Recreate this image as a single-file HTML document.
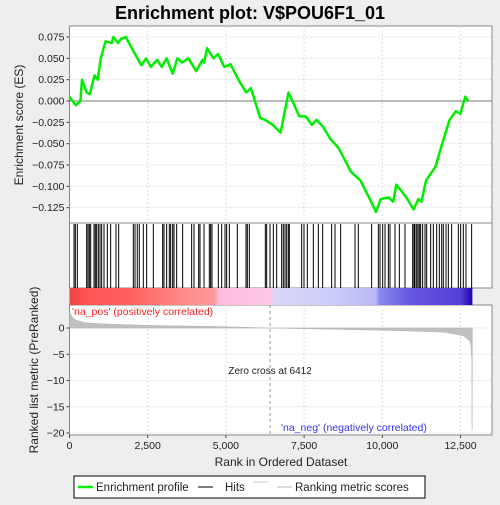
<!DOCTYPE html>
<html><head><meta charset="utf-8"><style>
body{margin:0;background:#eeeeee;width:500px;height:500px;overflow:hidden;font-family:"Liberation Sans",sans-serif}
</style></head><body>
<svg id="c" width="500" height="500" xmlns="http://www.w3.org/2000/svg" font-family="Liberation Sans, sans-serif"></svg>
<script>
const esRanks=[0,200,350,400,550,650,800,900,1000,1150,1350,1400,1550,1650,1800,2050,2300,2450,2600,2800,2950,3100,3300,3450,3600,3800,4050,4250,4300,4400,4600,4750,4950,5150,5400,5650,5800,6100,6250,6500,6750,7000,7350,7550,7750,7900,8100,8350,8600,9000,9300,9600,9800,9950,10200,10350,10450,10750,11000,11150,11250,11400,11700,11900,12150,12350,12500,12650,12750];
const esValues=[0.005,-0.005,0.0,0.025,0.01,0.008,0.03,0.025,0.05,0.07,0.068,0.075,0.068,0.073,0.075,0.058,0.042,0.05,0.04,0.048,0.04,0.05,0.032,0.05,0.045,0.05,0.035,0.048,0.045,0.062,0.05,0.055,0.04,0.043,0.025,0.01,0.015,-0.02,-0.022,-0.028,-0.037,0.01,-0.018,-0.018,-0.028,-0.022,-0.03,-0.045,-0.055,-0.083,-0.093,-0.115,-0.13,-0.115,-0.113,-0.118,-0.098,-0.112,-0.127,-0.115,-0.118,-0.093,-0.077,-0.052,-0.022,-0.012,-0.015,0.005,0.0];
const hitRanks=[144,186,250,549,591,634,677,783,826,868,922,975,1028,1103,1209,1316,1486,1572,2040,2094,2168,2232,2360,2467,2680,2978,3021,3106,3191,3234,3298,3341,3426,3618,3905,3980,4129,4172,4300,4470,4513,4556,4758,4865,4972,5024,5110,5365,5642,5685,5749,6260,6303,6410,6516,6623,6783,6836,6890,6943,6996,7028,7422,7497,7603,7795,7955,8093,8381,8488,8669,9127,9234,9660,9873,9927,10012,10087,10193,10246,10406,10545,10726,10971,11013,11045,11099,11141,11184,11226,11290,11365,11418,11546,11631,11738,11823,11898,11951,12036,12111,12217,12430,12505,12590,12675,12856];
const metricRanks=[0,100,200,500,1000,2500,4500,6412,9000,10500,12000,12600,12800,12840,12860,12870];
const metricValues=[3,2,1.5,1,0.8,0.5,0.3,0,-0.3,-0.5,-0.8,-1.5,-2.5,-3.5,-6,-19.5];
const esTicks=[0.075,0.05,0.025,0,-0.025,-0.05,-0.075,-0.1,-0.125];
const esTickLabels=["0.075","0.050","0.025","0.000","\u22120.025","\u22120.050","\u22120.075","\u22120.100","\u22120.125"];
const metricTicks=[0,-5,-10,-15,-20];
const xTicks=[0,2500,5000,7500,10000,12500];
const xTickLabels=["0","2,500","5,000","7,500","10,000","12,500"];
const zeroCross=6412, maxRank=12880;

const L=69.5,R=492;
const X=r=>L+r*0.03128;
const YE=v=>101-v*853.3;
const YM=v=>328-v*5.25;
const svg=document.getElementById('c');
const NS='http://www.w3.org/2000/svg';
function mk(t,a,p){const e=document.createElementNS(NS,t);for(const k in a)e.setAttribute(k,a[k]);(p||svg).appendChild(e);return e;}
function tx(x,y,s,a,p){const e=mk('text',Object.assign({x:x,y:y},a||{}),p);e.textContent=s;return e;}

const title=tx(250,19,"Enrichment plot: V$POU6F1_01",{'text-anchor':'middle','font-size':'18','font-weight':'bold',fill:'#000'});


const p1=mk('rect',{x:L,y:26,width:R-L,height:197,fill:'#fff',stroke:'#888'});

const p2=mk('rect',{x:L,y:223,width:R-L,height:65,fill:'#fff',stroke:'#888'});

const p3=mk('rect',{x:L,y:305,width:R-L,height:130,fill:'#fff',stroke:'#888'});


xTicks.forEach(t=>{if(t>0){mk('line',{x1:X(t),x2:X(t),y1:26,y2:223,stroke:'#ddd','stroke-dasharray':'2,2'});mk('line',{x1:X(t),x2:X(t),y1:305,y2:435,stroke:'#ddd','stroke-dasharray':'2,2'});}});
esTicks.forEach((t,i)=>{mk('line',{x1:L,x2:R,y1:YE(t),y2:YE(t),stroke:'#ddd','stroke-dasharray':'2,2'});
 mk('line',{x1:L-3,x2:L,y1:YE(t),y2:YE(t),stroke:'#444'});
 const e=tx(L-5,YE(t)+3.5,esTickLabels[i],{'text-anchor':'end','font-size':'10.5',fill:'#222'});
 });
mk('line',{x1:L,x2:R,y1:YE(0),y2:YE(0),stroke:'#777'});
metricTicks.forEach(t=>{mk('line',{x1:L,x2:R,y1:YM(t),y2:YM(t),stroke:'#ddd','stroke-dasharray':'2,2'});
 mk('line',{x1:L-3,x2:L,y1:YM(t),y2:YM(t),stroke:'#444'});
 const e=tx(L-5,YM(t)+3.5,t===0?"0":"\u2212"+(-t),{'text-anchor':'end','font-size':'10.5',fill:'#222'});
 });
xTicks.forEach((t,i)=>{mk('line',{x1:X(t),x2:X(t),y1:435,y2:438,stroke:'#444'});
 const e=tx(X(t),449,xTickLabels[i],{'text-anchor':'middle','font-size':'10.5',fill:'#222'});
 });

const pts=esRanks.map((r,i)=>X(r).toFixed(1)+','+YE(esValues[i]).toFixed(1)).join(' ');
const es=mk('polyline',{points:pts,fill:'none',stroke:'#00ee00','stroke-width':'2.5','stroke-linejoin':'round'});


hitRanks.forEach(r=>{const h=mk('line',{x1:X(r),x2:X(r),y1:224,y2:288,stroke:'#000','stroke-width':'1'});
 });

const defs=mk('defs',{});
const g=mk('linearGradient',{id:'cb',x1:'0',x2:'1',y1:'0',y2:'0'},defs);
[[0,'#ee4444'],[0.05,'#ff5555'],[0.15,'#ff6060'],[0.28,'#ff8a8a'],[0.36,'#ff9999'],[0.37,'#ffbbdd'],[0.5,'#ffc8e8'],[0.51,'#d8d8f8'],[0.65,'#ccccf8'],[0.76,'#bbb8f5'],[0.77,'#8888ee'],[0.85,'#6655e0'],[0.97,'#5540d8'],[1,'#2200aa']].forEach(s=>mk('stop',{offset:s[0],'stop-color':s[1]},g));
const cb=mk('rect',{x:L,y:288,width:X(maxRank)-L,height:17,fill:'url(#cb)'});


let mp='M'+X(0)+','+YM(0);
metricRanks.forEach((r,i)=>{mp+=' L'+X(r).toFixed(1)+','+YM(metricValues[i]).toFixed(1);});
mp+=' L'+X(maxRank)+','+YM(0)+' Z';
const ma=mk('path',{d:mp,fill:'#c0c0c0',stroke:'#b0b0b0','stroke-width':'0.5'});


mk('line',{x1:X(zeroCross),x2:X(zeroCross),y1:305,y2:435,stroke:'#999','stroke-dasharray':'3,3'});
const zc=tx(X(zeroCross),374,"Zero cross at 6412",{'text-anchor':'middle','font-size':'10',fill:'#222'});

const pl=tx(72,315,"'na_pos' (positively correlated)",{'font-size':'10.5',fill:'#ff2222'});

const nl=tx(281,431,"'na_neg' (negatively correlated)",{'font-size':'10.5',fill:'#3333ee'});


const xt=tx(281,466,"Rank in Ordered Dataset",{'text-anchor':'middle','font-size':'12',fill:'#222'});

const yt=tx(0,0,"Enrichment score (ES)",{'text-anchor':'middle','font-size':'12',fill:'#222',transform:'translate(23,125) rotate(-90)'});

const yt2=tx(0,0,"Ranked list metric (PreRanked)",{'text-anchor':'middle','font-size':'12',fill:'#222',transform:'translate(38,370) rotate(-90)'});


const lg=mk('g',{});

mk('rect',{x:74,y:476,width:351,height:22,fill:'#fff',stroke:'#000'},lg);
mk('line',{x1:78,x2:93,y1:487,y2:487,stroke:'#00ee00','stroke-width':'2.5'},lg);
tx(96,491,"Enrichment profile",{'font-size':'11.5',fill:'#222'},lg);
mk('line',{x1:198,x2:213,y1:487,y2:487,stroke:'#000'},lg);
tx(225,491,"Hits",{'font-size':'11.5',fill:'#222'},lg);
mk('line',{x1:253,x2:268,y1:482,y2:482,stroke:'#ccc'},lg);
mk('line',{x1:277,x2:292,y1:487,y2:487,stroke:'#bbb'},lg);
tx(295,491,"Ranking metric scores",{'font-size':'11.5',fill:'#222'},lg);
</script>
</body></html>
